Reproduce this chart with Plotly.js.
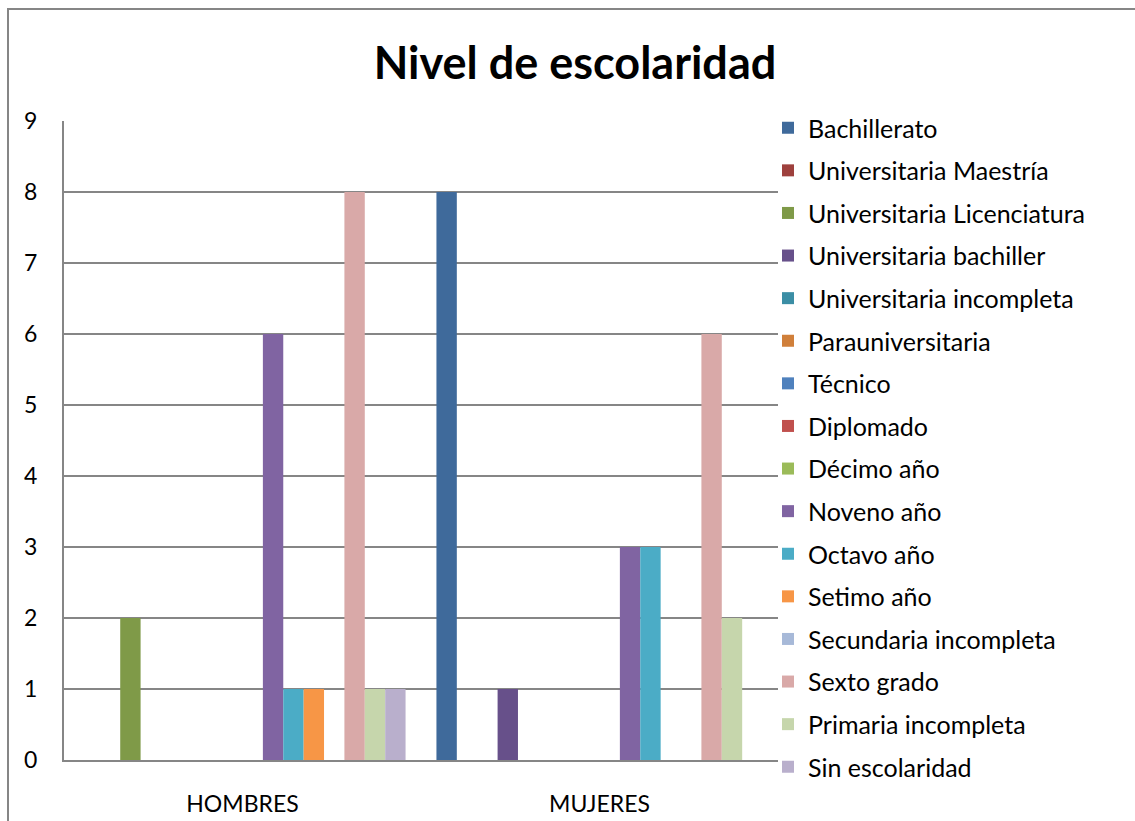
<!DOCTYPE html>
<html>
<head>
<meta charset="utf-8">
<script src="https://cdn.plot.ly/plotly-3.0.1.min.js"></script>
<style>html,body{margin:0;padding:0;background:#fff;}#chart{width:1135px;height:821px;}</style>
</head>
<body>
<div id="chart"></div>
<script>
var categories = ["HOMBRES", "MUJERES"];
var seriesNames = [
  "Bachillerato", "Universitaria Maestría", "Universitaria Licenciatura",
  "Universitaria bachiller", "Universitaria incompleta", "Parauniversitaria",
  "Técnico", "Diplomado", "Décimo año", "Noveno año", "Octavo año",
  "Setimo año", "Secundaria incompleta", "Sexto grado", "Primaria incompleta",
  "Sin escolaridad"
];
var hombres = [0, 0, 2, 0, 0, 0, 0, 0, 0, 6, 1, 1, 0, 8, 1, 1];
var mujeres = [8, 0, 0, 1, 0, 0, 0, 0, 0, 3, 3, 0, 0, 6, 2, 0];
var colors = [
  "#3F6A9B", "#9E403D", "#7F9A48", "#67508A", "#3B8EA5", "#D07F3A",
  "#4F81BD", "#C0504D", "#9BBB59", "#8064A2", "#4BACC6", "#F79646",
  "#A7B9D8", "#D9A9A8", "#C6D6AC", "#B9AFCC"
];
var yTicks = [0, 1, 2, 3, 4, 5, 6, 7, 8, 9];

var FONT = "Lato, 'Liberation Sans', sans-serif";
var traces = seriesNames.map(function (name, i) {
  return {
    type: "bar",
    name: name,
    x: categories,
    y: [hombres[i], mujeres[i]],
    marker: {color: colors[i]},
    legendgroup: "g" + i,
    hoverinfo: "name+y"
  };
});

var layout = {
  width: 1135,
  height: 821,
  paper_bgcolor: "#ffffff",
  plot_bgcolor: "#ffffff",
  margin: {l: 64, r: 357, t: 121, b: 61, pad: 0, autoexpand: false},
  barmode: "group",
  bargap: 0.0865,
  bargroupgap: 0,
  font: {family: FONT, color: "#000000"},
  title: {
    text: "<b>Nivel de escolaridad</b>",
    font: {family: FONT, size: 45, color: "#000000"},
    x: 575 / 1135, xref: "container", xanchor: "center",
    y: 1 - 63 / 821, yref: "container", yanchor: "middle"
  },
  xaxis: {
    type: "category",
    showgrid: false,
    showline: true,
    linecolor: "#868686",
    linewidth: 2,
    ticks: "",
    tickfont: {family: FONT, size: 23, color: "#000000"},
    ticklabelstandoff: 22,
    zeroline: false
  },
  yaxis: {
    range: [0, 9],
    tickvals: yTicks,
    showgrid: true,
    gridcolor: "#868686",
    gridwidth: 2,
    showline: true,
    linecolor: "#868686",
    linewidth: 2,
    zeroline: false,
    ticks: "",
    tickfont: {family: FONT, size: 23, color: "#000000"},
    ticklabelstandoff: 20
  },
  legend: {
    xref: "container", x: 768 / 1135, xanchor: "left",
    yref: "container", y: 1 - 105 / 821, yanchor: "top",
    font: {family: FONT, size: 25, color: "#000000"},
    tracegroupgap: 7.1,
    traceorder: "grouped",
    maxheight: 800,
    bgcolor: "rgba(0,0,0,0)",
    borderwidth: 0
  },
  shapes: [{
    type: "rect",
    xref: "paper", yref: "paper",
    x0: (8 - 64) / 714, x1: 1.8,
    y0: -0.3, y1: (760 - 9) / 639,
    line: {color: "#868686", width: 2},
    fillcolor: "rgba(0,0,0,0)",
    layer: "below"
  }],
  showlegend: true
};

Plotly.newPlot("chart", traces, layout, {displayModeBar: false, staticPlot: true});
</script>
</body>
</html>
